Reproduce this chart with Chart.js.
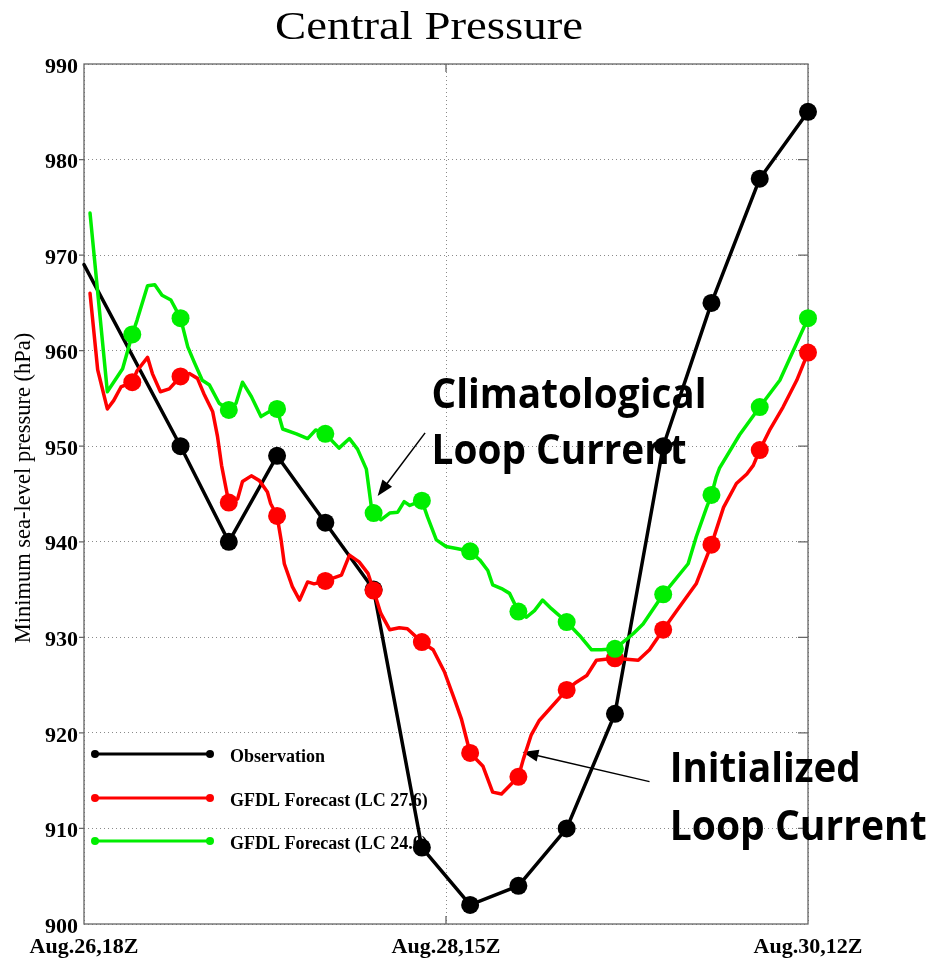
<!DOCTYPE html>
<html>
<head>
<meta charset="utf-8">
<script src="https://cdn.jsdelivr.net/npm/chart.js@4.4.1/dist/chart.umd.min.js"></script>
<style>
  html, body { margin: 0; padding: 0; background: #fff; }
</style>
</head>
<body>
<canvas id="pressure-chart" width="932" height="958"></canvas>
<script>
// hours after Aug.26,18Z
const tickHours = [0, 45, 90];
const tickLabels = ["Aug.26,18Z", "Aug.28,15Z", "Aug.30,12Z"];

const obsHours = [0, 12, 18, 24, 30, 36, 42, 48, 54, 60, 66, 72, 78, 84, 90];
const obsPressure = [969, 950, 940, 949, 942, 935, 908, 902, 904, 910, 922, 950, 965, 978, 985];

// GFDL forecast, Loop Current 27.6 (red)
const lc276Hours = [0.75, 1.7, 2.9, 3.7, 4.6, 6, 6.6, 7.9, 8.5, 9.5, 10.6, 12, 13.1, 14.1, 14.9, 16, 16.6, 17.1, 18,
  19.1, 19.7, 20.8, 21.8, 22.8, 23.2, 24, 24.5, 24.9, 25.9, 26.8, 27.8, 28.6, 30, 32, 33, 34.2, 35.3, 36,
  36.9, 38, 39.2, 40.2, 42, 43.4, 44.8, 46.1, 46.9, 48, 49.6, 50.8, 51.9, 54, 54.6, 55.6, 56.6, 60,
  61.2, 62.5, 63.7, 66, 68.9, 70.3, 72, 73.7, 76.1, 78, 79.5, 81.1, 82.4, 83.2, 84, 85.3, 86.9, 88.6, 90];
const lc276Pressure = [966.0, 958.0, 953.9, 954.8, 956.2, 956.7, 957.9, 959.3, 957.6, 955.7, 956.0, 957.3, 957.6, 957.1, 955.5, 953.6, 951.0, 948.0, 944.1,
  944.5, 946.3, 946.9, 946.4, 945.2, 944.0, 942.7, 940.2, 937.7, 935.3, 933.9, 935.8, 935.6, 935.9, 936.5, 938.6, 937.9, 936.7, 934.9,
  932.5, 930.8, 931.0, 930.9, 929.5, 928.7, 926.4, 923.4, 921.5, 917.9, 916.5, 913.8, 913.6, 915.4, 917.2, 919.8, 921.3, 924.5,
  925.3, 926.0, 927.6, 927.8, 927.6, 928.7, 930.8, 932.8, 935.6, 939.7, 943.6, 946.1, 947.1, 948.0, 949.6, 951.8, 954.1, 956.9, 959.8];

// GFDL forecast, Loop Current 24.0 (green)
const lc240Hours = [0.75, 2.9, 4.8, 6, 6.6, 7.9, 8.8, 9.7, 10.8, 12, 12.9, 13.7, 14.7, 15.6, 16.8, 18,
  18.9, 19.7, 20.8, 22, 23, 24, 24.7, 26.4, 27.8, 28.8, 30, 31.7, 33, 34, 35.1, 35.7, 36,
  36.9, 38, 39, 39.8, 40.5, 42, 42.7, 43.8, 45, 46.3, 48, 49.2, 50.2, 50.8, 51.9, 52.9, 54,
  55, 56, 57, 58.1, 60, 61.6, 63.1, 64.3, 66, 68.3, 69.5, 72, 75.1, 76.1, 77.4, 78,
  78.6, 79, 81.5, 84, 86.5, 90];
const lc240Pressure = [974.4, 955.7, 958.1, 961.7, 963.2, 966.8, 966.9, 965.8, 965.3, 963.4, 960.4, 958.8, 956.9, 956.4, 954.5, 953.8,
  954.5, 956.7, 955.2, 953.1, 953.6, 953.9, 951.8, 951.3, 950.8, 951.7, 951.3, 949.8, 950.8, 949.7, 947.6, 943.8, 943.0,
  942.3, 943.0, 943.1, 944.2, 943.8, 944.3, 942.6, 940.2, 939.5, 939.3, 939.0, 938.1, 937.0, 935.5, 935.1, 934.6, 932.7,
  932.1, 932.8, 933.9, 933.0, 931.6, 930.2, 928.7, 928.7, 928.8, 930.4, 931.4, 934.5, 937.7, 940.5, 943.6, 944.9,
  946.8, 947.7, 951.2, 954.1, 956.9, 963.4];

const markerHours = [6, 12, 18, 24, 30, 36, 42, 48, 54, 60, 66, 72, 78, 84, 90];
const seriesNames = ["Observation", "GFDL Forecast (LC 27.6)", "GFDL Forecast (LC 24.0)"];
const seriesColors = ["#000000", "#ff0000", "#00ee00"];

const serif = '"Liberation Serif", "Times New Roman", serif';
const sans = '"Open Sans", Lato, sans-serif';

function toPoints(hours, values) {
  return hours.map((h, i) => ({ x: h, y: values[i] }));
}
function markerRadius(ctx) {
  return markerHours.includes(ctx.raw.x) ? 9 : 0;
}

// text squeezed/stretched to a given width
function fittedText(ctx, text, x, y, width, font) {
  ctx.font = font;
  const w = ctx.measureText(text).width;
  ctx.save();
  ctx.translate(x, y);
  ctx.scale(width / w, 1);
  ctx.fillText(text, 0, 0);
  ctx.restore();
}

function arrow(ctx, x1, y1, x2, y2) {
  const a = Math.atan2(y2 - y1, x2 - x1);
  const len = 16, half = 6;
  ctx.beginPath();
  ctx.moveTo(x1, y1);
  ctx.lineTo(x2 - Math.cos(a) * len * 0.8, y2 - Math.sin(a) * len * 0.8);
  ctx.stroke();
  ctx.beginPath();
  ctx.moveTo(x2, y2);
  ctx.lineTo(x2 - Math.cos(a) * len + Math.sin(a) * half, y2 - Math.sin(a) * len - Math.cos(a) * half);
  ctx.lineTo(x2 - Math.cos(a) * len - Math.sin(a) * half, y2 - Math.sin(a) * len + Math.cos(a) * half);
  ctx.closePath();
  ctx.fill();
}

const decorations = {
  id: "decorations",
  beforeDatasetsDraw(chart) {
    const ctx = chart.ctx;
    const area = chart.chartArea;
    const xs = chart.scales.x, ys = chart.scales.y;
    ctx.save();

    // axes box + ticks
    ctx.strokeStyle = "#666";
    ctx.lineWidth = 1.3;
    ctx.strokeRect(area.left, area.top, area.right - area.left, area.bottom - area.top);
    ctx.beginPath();
    for (let v = 910; v < 990; v += 10) {
      const y = ys.getPixelForValue(v);
      ctx.moveTo(area.left - 5, y); ctx.lineTo(area.left, y);
      ctx.moveTo(area.right - 10, y); ctx.lineTo(area.right, y);
    }
    const xm = xs.getPixelForValue(45);
    ctx.moveTo(xm, area.bottom); ctx.lineTo(xm, area.bottom - 8);
    ctx.moveTo(xm, area.top); ctx.lineTo(xm, area.top + 8);
    ctx.stroke();

    // legend
    const ly = [754, 798, 841];
    seriesNames.forEach((name, i) => {
      ctx.strokeStyle = seriesColors[i];
      ctx.fillStyle = seriesColors[i];
      ctx.lineWidth = 3;
      ctx.beginPath();
      ctx.moveTo(area.left + 11, ly[i]); ctx.lineTo(area.left + 126, ly[i]);
      ctx.stroke();
      [area.left + 11, area.left + 126].forEach(px => {
        ctx.beginPath(); ctx.arc(px, ly[i], 4, 0, Math.PI * 2); ctx.fill();
      });
      ctx.fillStyle = "#000";
      ctx.font = "bold 18px " + serif;
      ctx.textAlign = "left";
      ctx.textBaseline = "alphabetic";
      ctx.fillText(name, area.left + 146, ly[i] + 7.5);
    });

    // annotations
    ctx.fillStyle = "#000";
    ctx.strokeStyle = "#000";
    ctx.lineWidth = 1.5;
    const bold = "bold 41px " + sans;
    fittedText(ctx, "Climatological", xs.getPixelForValue(43.2), ys.getPixelForValue(954.0), 275, bold);
    fittedText(ctx, "Loop Current", xs.getPixelForValue(43.2), ys.getPixelForValue(948.1), 255, bold);
    fittedText(ctx, "Initialized", xs.getPixelForValue(72.8), ys.getPixelForValue(914.9), 191, bold);
    fittedText(ctx, "Loop Current", xs.getPixelForValue(72.8), ys.getPixelForValue(908.8), 257, bold);
    arrow(ctx, xs.getPixelForValue(42.4), ys.getPixelForValue(951.4), xs.getPixelForValue(36.5), ys.getPixelForValue(944.8));
    arrow(ctx, xs.getPixelForValue(70.3), ys.getPixelForValue(914.9), xs.getPixelForValue(54.5), ys.getPixelForValue(918.0));
    ctx.restore();
  },
  afterDraw(chart) {
    const ctx = chart.ctx;
    ctx.save();
    ctx.fillStyle = "#000";
    ctx.textAlign = "center";
    ctx.textBaseline = "alphabetic";
    ctx.font = "40px " + serif;
    ctx.translate(429, 39);
    ctx.scale(1.17, 1);
    ctx.fillText("Central Pressure", 0, 0);
    ctx.restore();

    ctx.save();
    ctx.fillStyle = "#000";
    ctx.textAlign = "center";
    ctx.textBaseline = "middle";
    ctx.font = "22.5px " + serif;
    ctx.translate(24, 488);
    ctx.rotate(-Math.PI / 2);
    ctx.fillText("Minimum sea-level pressure (hPa)", 0, 0);
    ctx.restore();
  }
};

new Chart(document.getElementById("pressure-chart"), {
  type: "line",
  data: {
    datasets: [
      {
        label: seriesNames[0],
        data: toPoints(obsHours, obsPressure),
        borderColor: seriesColors[0],
        backgroundColor: seriesColors[0],
        borderWidth: 3.5,
        pointRadius: markerRadius,
        pointBorderWidth: 0,
        clip: false,
        order: 3
      },
      {
        label: seriesNames[1],
        data: toPoints(lc276Hours, lc276Pressure),
        borderColor: seriesColors[1],
        backgroundColor: seriesColors[1],
        borderWidth: 3.5,
        pointRadius: markerRadius,
        pointBorderWidth: 0,
        clip: false,
        order: 2
      },
      {
        label: seriesNames[2],
        data: toPoints(lc240Hours, lc240Pressure),
        borderColor: seriesColors[2],
        backgroundColor: seriesColors[2],
        borderWidth: 3.5,
        pointRadius: markerRadius,
        pointBorderWidth: 0,
        clip: false,
        order: 1
      }
    ]
  },
  options: {
    responsive: false,
    animation: false,
    layout: { padding: { top: 64, right: 124, left: 0, bottom: 0 } },
    elements: { line: { tension: 0, borderJoinStyle: "round", borderCapStyle: "round" } },
    plugins: {
      legend: { display: false },
      tooltip: { enabled: false },
      title: { display: false }
    },
    scales: {
      x: {
        type: "linear",
        min: 0,
        max: 90,
        afterFit: s => { s.height = 34; },
        afterBuildTicks: s => { s.ticks = tickHours.map(v => ({ value: v })); },
        ticks: {
          autoSkip: false,
          maxRotation: 0,
          padding: 10,
          color: "#000",
          font: { family: serif, weight: "bold", size: 22 },
          callback: v => tickLabels[tickHours.indexOf(v)]
        },
        grid: { color: "#8a8a8a", lineWidth: 1, drawTicks: false },
        border: { display: false, dash: [1, 3] }
      },
      y: {
        min: 900,
        max: 990,
        afterFit: s => { s.width = 84; },
        ticks: {
          stepSize: 10,
          padding: 6,
          labelOffset: 3,
          color: "#000",
          font: { family: serif, weight: "bold", size: 22 }
        },
        grid: { color: "#8a8a8a", lineWidth: 1, drawTicks: false },
        border: { display: false, dash: [1, 3] }
      }
    }
  },
  plugins: [decorations]
});
</script>
</body>
</html>
